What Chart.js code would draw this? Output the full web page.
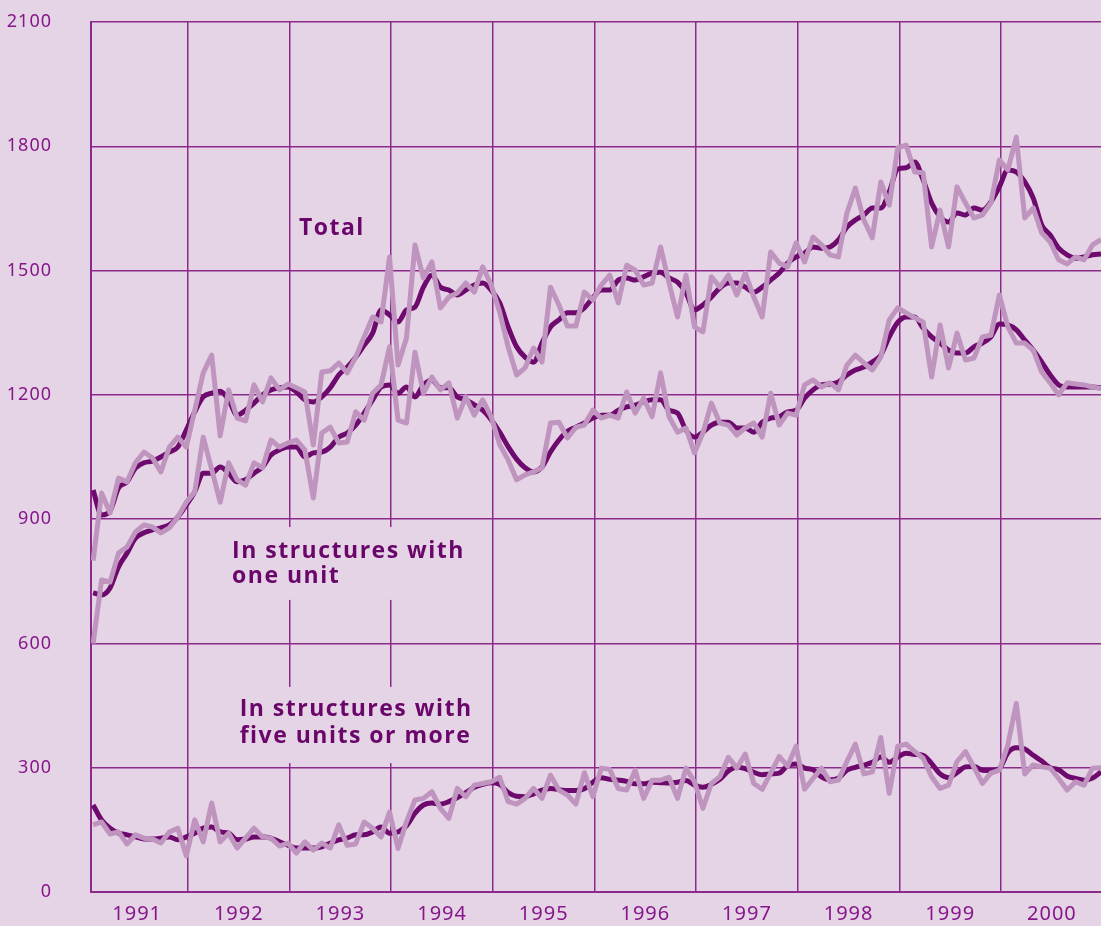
<!DOCTYPE html>
<html>
<head>
<meta charset="utf-8">
<script src="https://cdn.jsdelivr.net/npm/chart.js@4.4.1/dist/chart.umd.min.js"></script>
<style>
html,body{margin:0;padding:0;background:#e5d4e5;}
#wrap{width:1101px;height:926px;position:relative;}
</style>
</head>
<body>
<div id="wrap"><canvas id="c" width="1101" height="926"></canvas></div>
<script>
// ---- data (monthly, Jan 1991 - Dec 2000, thousands of units, annual rate) ----
const yearLabels = ['1991','1992','1993','1994','1995','1996','1997','1998','1999','2000'];
const yTicks = [0, 300, 600, 900, 1200, 1500, 1800, 2100];

const totalMonthly = [
  800, 963, 915, 999, 990,1036,1062,1048,1014,1074,1098,1074,
 1163,1253,1296,1101,1212,1144,1137,1224,1183,1241,1212,1226,
 1217,1207,1079,1255,1258,1277,1253,1291,1340,1388,1376,1533,
 1272,1337,1562,1482,1521,1410,1436,1446,1470,1448,1509,1465,
 1400,1316,1248,1265,1313,1279,1460,1417,1366,1366,1448,1429,
 1465,1489,1422,1513,1501,1465,1470,1557,1470,1388,1489,1364,
 1352,1485,1460,1489,1441,1494,1436,1388,1545,1518,1509,1567,
 1521,1581,1562,1538,1533,1639,1699,1622,1579,1714,1658,1796,
 1803,1738,1736,1557,1646,1557,1702,1663,1627,1634,1663,1767,
 1743,1822,1627,1651,1591,1569,1526,1516,1533,1526,1562,1575
];
const totalTrend = [
  970, 910, 920, 975, 990,1023,1036,1040,1050,1062,1074,1115,
 1159,1195,1204,1209,1188,1151,1163,1180,1200,1212,1217,1219,
 1207,1188,1183,1195,1217,1248,1267,1291,1320,1349,1405,1393,
 1376,1405,1412,1460,1489,1460,1453,1441,1453,1465,1470,1453,
 1422,1364,1316,1291,1279,1325,1364,1381,1398,1398,1410,1434,
 1453,1453,1477,1482,1477,1485,1494,1496,1482,1472,1446,1405,
 1417,1436,1458,1470,1470,1460,1448,1460,1477,1494,1518,1533,
 1542,1557,1554,1557,1574,1605,1622,1634,1651,1651,1690,1745,
 1748,1762,1719,1663,1630,1617,1639,1634,1651,1646,1666,1702,
 1743,1738,1714,1675,1610,1586,1554,1538,1530,1533,1538,1540
];
const oneUnitMonthly = [
  600, 753, 748, 818, 833, 869, 886, 881, 867, 879, 905, 941,
  966,1098,1020, 941,1036, 995, 982,1036,1024,1091,1074,1084,
 1091,1067, 951,1108,1122,1084,1086,1159,1139,1204,1224,1316,
 1139,1132,1303,1204,1243,1212,1229,1144,1195,1151,1188,1147,
 1080,1043, 995,1007,1014,1024,1132,1134,1096,1122,1127,1163,
 1144,1151,1144,1207,1156,1192,1147,1253,1147,1110,1120,1060,
 1108,1180,1132,1127,1103,1120,1132,1098,1204,1127,1156,1151,
 1224,1236,1219,1229,1212,1272,1296,1277,1260,1291,1381,1410,
 1398,1386,1376,1243,1369,1265,1349,1284,1289,1340,1344,1441,
 1364,1325,1325,1308,1255,1229,1200,1229,1226,1224,1219,1215
];
const oneUnitTrend = [
  722, 717, 734, 785, 818, 854, 867, 874, 879, 886, 905, 934,
  966,1011,1011,1026,1011, 990, 995,1011,1026,1055,1067,1074,
 1074,1050,1060,1062,1074,1098,1108,1127,1156,1188,1219,1224,
 1204,1219,1195,1224,1236,1217,1217,1195,1188,1176,1163,1140,
 1110,1075,1045,1024,1014,1026,1062,1091,1112,1122,1132,1144,
 1151,1151,1163,1171,1175,1183,1188,1188,1163,1156,1115,1098,
 1110,1127,1134,1134,1120,1120,1110,1134,1144,1147,1159,1163,
 1192,1212,1224,1226,1231,1248,1260,1267,1279,1296,1340,1375,
 1388,1388,1361,1340,1325,1308,1301,1301,1316,1325,1340,1371,
 1369,1357,1332,1308,1279,1248,1224,1219,1219,1219,1219,1217
];
const fivePlusMonthly = [
  162, 169, 140, 145, 116, 138, 130, 128, 118, 145, 154,  87,
  174, 121, 215, 121, 142, 106, 130, 154, 133, 130, 111, 118,
   94, 121, 101, 118, 106, 162, 113, 116, 169, 154, 133, 193,
  105, 170, 222, 226, 242, 202, 178, 250, 230, 258, 262, 266,
  277, 218, 212, 226, 250, 226, 282, 246, 234, 212, 288, 230,
  299, 296, 250, 246, 294, 226, 270, 270, 277, 226, 299, 266,
  202, 262, 278, 325, 299, 333, 262, 248, 287, 327, 304, 352,
  248, 274, 299, 266, 270, 315, 357, 285, 290, 373, 238, 352,
  357, 339, 323, 278, 250, 258, 315, 339, 301, 262, 287, 294,
  355, 455, 285, 307, 302, 299, 274, 246, 266, 258, 299, 300
];
const fivePlusTrend = [
  210, 174, 154, 142, 138, 133, 128, 128, 130, 133, 126, 133,
  142, 154, 157, 145, 142, 126, 128, 133, 133, 130, 121, 113,
  106, 106, 106, 109, 118, 126, 130, 138, 138, 145, 157, 142,
  145, 160, 190, 210, 215, 212, 218, 228, 240, 253, 260, 264,
  260, 240, 231, 230, 237, 246, 250, 247, 245, 245, 249, 265,
  276, 272, 270, 267, 261, 261, 265, 264, 263, 265, 269, 258,
  253, 260, 272, 292, 302, 298, 289, 283, 285, 287, 305, 309,
  299, 295, 278, 271, 275, 294, 301, 306, 313, 326, 313, 326,
  335, 332, 330, 310, 285, 276, 288, 302, 303, 294, 293, 298,
  336, 348, 345, 330, 316, 300, 295, 280, 274, 270, 275, 290
];

// ---- styles ----
const BG = '#e5d4e5';
const GRID = '#8c2a8c';
const DARK = '#6e0a6e';
const LIGHT = '#bf95bf';
const LABEL = '#6a0569';
const TICK = '#86168a';

const toPts = arr => arr.map((v, i) => ({ x: i, y: v }));
const yearBoundaries = yearLabels.slice(1).map((_, k) => 11.2 + 12 * k);
const yearCenters = yearLabels.map((_, k) => 5.2 + 12 * k);
const near = (a, b) => Math.abs(a - b) < 1e-6;

const bgPlugin = {
  id: 'bg',
  beforeDraw(chart) {
    const ctx = chart.ctx;
    ctx.save();
    ctx.fillStyle = BG;
    ctx.fillRect(0, 0, chart.width, chart.height);
    ctx.restore();
    ctx.letterSpacing = '1px';
  }
};

const labelPlugin = {
  id: 'seriesLabels',
  beforeDatasetsDraw(chart) {
    const ctx = chart.ctx, xs = chart.scales.x, ys = chart.scales.y;
    const X = v => xs.getPixelForValue(v), Y = v => ys.getPixelForValue(v);
    ctx.save();
    ctx.fillStyle = BG;
    // knock-out boxes behind the labels (cover grid lines)
    ctx.fillRect(X(15.7), Y(881), X(45.1) - X(15.7), Y(705) - Y(881));
    ctx.fillRect(X(16.4), Y(495), X(46.4) - X(16.4), Y(311) - Y(495));
    ctx.fillStyle = LABEL;
    ctx.font = 'bold 23px "Open Sans"';
    ctx.letterSpacing = '1.5px';
    ctx.textAlign = 'left';
    ctx.textBaseline = 'alphabetic';
    ctx.fillText('Total', X(24.3), Y(1586));
    ctx.fillText('In structures with', X(16.4), Y(806));
    ctx.fillText('one unit', X(16.4), Y(745));
    ctx.fillText('In structures with', X(17.3), Y(425));
    ctx.fillText('five units or more', X(17.3), Y(360));
    ctx.restore();
  }
};

const mk = (data, color, order, trend) => ({
  data: toPts(data),
  borderColor: color,
  borderWidth: 5,
  pointRadius: 0,
  fill: false,
  tension: 0,
  cubicInterpolationMode: trend ? 'monotone' : 'default',
  borderJoinStyle: 'round',
  borderCapStyle: 'butt',
  order: order
});

new Chart(document.getElementById('c'), {
  type: 'line',
  data: {
    datasets: [
      mk(totalTrend, DARK, 2, true),
      mk(oneUnitTrend, DARK, 2, true),
      mk(fivePlusTrend, DARK, 2, true),
      mk(totalMonthly, LIGHT, 1, false),
      mk(oneUnitMonthly, LIGHT, 1, false),
      mk(fivePlusMonthly, LIGHT, 1, false)
    ]
  },
  options: {
    responsive: false,
    devicePixelRatio: 1,
    animation: false,
    events: [],
    layout: { padding: { top: 22, right: 0, bottom: 0, left: 0 } },
    plugins: { legend: { display: false }, tooltip: { enabled: false } },
    scales: {
      x: {
        type: 'linear',
        min: -0.25,
        max: 119,
        afterBuildTicks(scale) {
          const vals = yearCenters.concat(yearBoundaries).sort((a, b) => a - b);
          scale.ticks = vals.map(v => ({ value: v }));
        },
        afterFit(scale) {
          scale.height = 34;
          scale.paddingLeft = 0; scale.paddingRight = 0;
          scale.paddingTop = 0; scale.paddingBottom = 0;
        },
        ticks: {
          autoSkip: false,
          maxRotation: 0,
          minRotation: 0,
          padding: 10,
          color: TICK,
          font: { family: '"Noto Sans"', size: 20 },
          callback(value) {
            const k = yearCenters.findIndex(c => near(c, value));
            return k >= 0 ? yearLabels[k] : '';
          }
        },
        grid: {
          drawTicks: false,
          lineWidth: 1.5,
          color(ctx) {
            return ctx.tick && yearBoundaries.some(b => near(b, ctx.tick.value)) ? GRID : 'rgba(0,0,0,0)';
          }
        },
        border: { display: true, color: GRID, width: 2 }
      },
      y: {
        min: 0,
        max: 2100,
        afterBuildTicks(scale) { scale.ticks = yTicks.map(v => ({ value: v })); },
        afterFit(scale) {
          scale.width = 91;
          scale.paddingTop = 0; scale.paddingBottom = 0;
          scale.paddingLeft = 0; scale.paddingRight = 0;
        },
        ticks: {
          padding: 39,
          color: TICK,
          font: { family: '"Noto Sans"', size: 18 },
          callback: v => String(v)
        },
        grid: { drawTicks: false, lineWidth: 1.5, color: GRID },
        border: { display: true, color: GRID, width: 2 }
      }
    }
  },
  plugins: [bgPlugin, labelPlugin]
});
</script>
</body>
</html>
